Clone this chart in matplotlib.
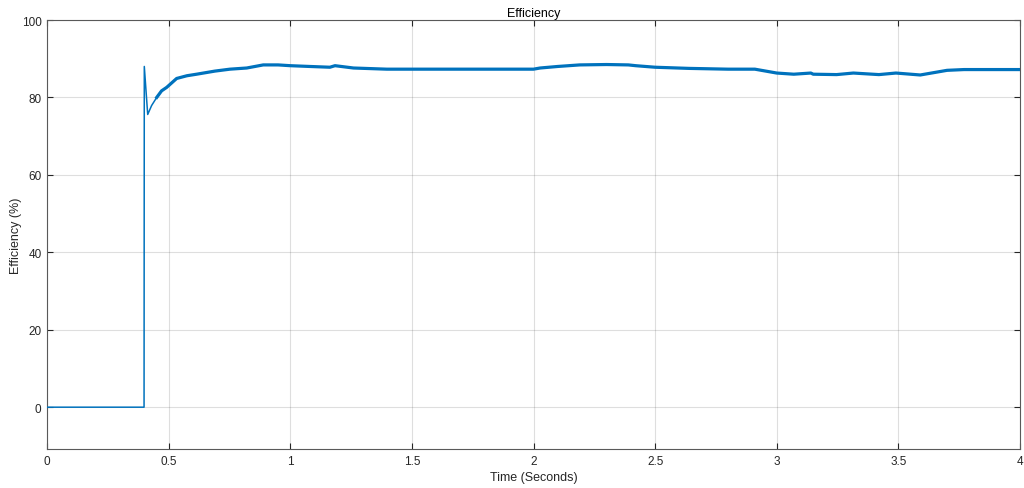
import matplotlib
matplotlib.use("Agg")
import matplotlib.pyplot as plt
import numpy as np

time_s = [0.0, 0.399, 0.400, 0.414, 0.430, 0.451, 0.471, 0.492, 0.533, 0.575, 0.615,
          0.69, 0.752, 0.821, 0.889, 0.95, 1.0, 1.08, 1.163, 1.184, 1.26, 1.397,
          1.6, 1.8, 2.0, 2.027, 2.10, 2.19, 2.30, 2.39, 2.42, 2.5, 2.64, 2.80, 2.91,
          3.0, 3.07, 3.14, 3.15, 3.246, 3.315, 3.42, 3.49, 3.59, 3.70, 3.77, 3.90, 4.0]
efficiency = [0.0, 0.0, 88.0, 75.6, 77.9, 80.0, 81.7, 82.6, 84.9, 85.6, 86.0,
              86.8, 87.3, 87.6, 88.4, 88.4, 88.2, 88.0, 87.8, 88.2, 87.6, 87.3,
              87.3, 87.3, 87.3, 87.6, 88.0, 88.4, 88.5, 88.4, 88.2, 87.8, 87.5, 87.3, 87.3,
              86.3, 86.0, 86.3, 86.0, 85.9, 86.3, 85.9, 86.3, 85.8, 87.0, 87.2, 87.2, 87.2]

x_ticks = [0, 0.5, 1, 1.5, 2, 2.5, 3, 3.5, 4]
x_tick_labels = ["0", "0.5", "1", "1.5", "2", "2.5", "3", "3.5", "4"]
y_ticks = [0, 20, 40, 60, 80, 100]

plt.rcParams['font.family'] = ['Liberation Sans', 'DejaVu Sans']
text_c = (0.15, 0.15, 0.15)
line_c = (0.0, 0.447, 0.741)

fig = plt.figure(figsize=(10.24, 4.89), dpi=100)
ax = fig.add_axes([47/1024, 39/489, (1020-47)/1024, (450-21)/489])

t = np.array(time_s)
e = np.array(efficiency)
ax.plot(t, e, color=line_c, lw=1.1, zorder=3)
mask = t >= 0.451
ax.plot(t[mask], e[mask], color=line_c, lw=2.3, zorder=3, solid_joinstyle='round')

ax.set_xlim(0, 4)
ax.set_ylim(-10.8, 100)
ax.set_xticks(x_ticks)
ax.set_xticklabels(x_tick_labels)
ax.set_yticks(y_ticks)
ax.grid(True, color=(0.15, 0.15, 0.15), alpha=0.15, lw=0.8)
ax.set_axisbelow(True)
for s in ax.spines.values():
    s.set_color((0.35, 0.35, 0.35))
    s.set_linewidth(0.8)
ax.tick_params(direction='in', length=4, width=0.8, colors=text_c, labelsize=8.5,
               top=True, right=True, pad=4)
ax.set_title("Efficiency", fontsize=9, color=(0, 0, 0), pad=3)
ax.set_xlabel("Time (Seconds)", fontsize=9, color=text_c, labelpad=3)
ax.set_ylabel("Efficiency (%)", fontsize=9, color=text_c)
ax.yaxis.set_label_coords(-0.0262, 0.5)

fig.savefig("out.png", dpi=100)
